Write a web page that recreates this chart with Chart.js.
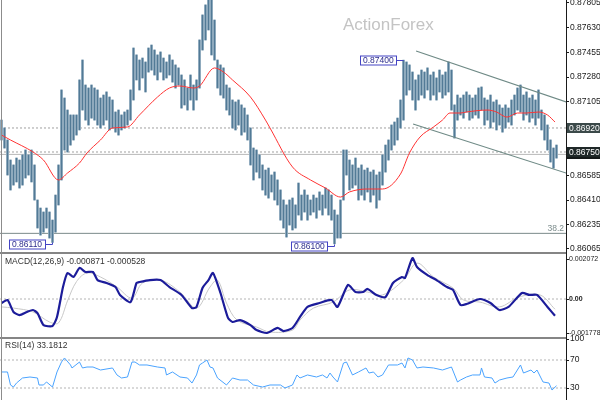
<!DOCTYPE html>
<html>
<head>
<meta charset="utf-8">
<title>4H chart</title>
<script src="https://cdn.jsdelivr.net/npm/chart.js@4.4.1/dist/chart.umd.min.js"></script>
<style>
  html, body { margin: 0; padding: 0; background: #fff; }
  #wrap { position: relative; width: 600px; height: 400px; overflow: hidden; background: #fff; }
  .pane { position: absolute; left: 0; width: 600px; }
  #pane-main { top: 0; height: 252px; }
  #pane-macd { top: 254px; height: 83px; }
  #pane-rsi { top: 333px; height: 67px; }
  .sep { position: absolute; left: 0; width: 566px; height: 2px; background: #858585; }
  .vline { position: absolute; top: 0; width: 1px; height: 400px; }
</style>
</head>
<body>
<div id="wrap">
  <div class="pane" id="pane-main"><canvas id="main"></canvas></div>
  <div class="pane" id="pane-macd"><canvas id="macd"></canvas></div>
  <div class="pane" id="pane-rsi"><canvas id="rsi"></canvas></div>
  <div class="sep" style="top:252px"></div>
  <div class="sep" style="top:337px"></div>
  <div class="vline" style="left:1px;background:#8c8c8c"></div>
  <div class="vline" style="left:566px;background:#1a1a1a"></div>
</div>
<script>
// price bars (high / low per bar, bar index = position)
const highs = [
  0.86976, 0.86920, 0.86835, 0.86693, 0.86658, 0.86707, 0.86693, 0.86729, 0.86764, 0.86729,
  0.86764, 0.86658, 0.86410, 0.86353, 0.86325, 0.86353, 0.86325, 0.86268, 0.86445, 0.86658,
  0.87189, 0.87132, 0.87047, 0.87012, 0.87012, 0.87012, 0.87260, 0.87401, 0.87224, 0.87203,
  0.87224, 0.87203, 0.87189, 0.87132, 0.87153, 0.87175, 0.87139, 0.87118, 0.87033, 0.87047,
  0.87012, 0.87033, 0.87047, 0.87189, 0.87486, 0.87437, 0.87401, 0.87415, 0.87387, 0.87486,
  0.87507, 0.87472, 0.87437, 0.87458, 0.87415, 0.87387, 0.87437, 0.87401, 0.87366, 0.87345,
  0.87295, 0.87260, 0.87203, 0.87295, 0.87224, 0.87260, 0.87543, 0.87720, 0.87791, 0.87840,
  0.87840, 0.87684, 0.87401, 0.87366, 0.87345, 0.87224, 0.87203, 0.87118, 0.87104, 0.87118,
  0.87083, 0.87061, 0.87012, 0.86920, 0.86778, 0.86764, 0.86729, 0.86658, 0.86622, 0.86636,
  0.86587, 0.86608, 0.86552, 0.86481, 0.86410, 0.86375, 0.86410, 0.86424, 0.86375, 0.86530,
  0.86445, 0.86481, 0.86445, 0.86410, 0.86445, 0.86424, 0.86467, 0.86445, 0.86495, 0.86481,
  0.86445, 0.86339, 0.86304, 0.86410, 0.86764, 0.86764, 0.86693, 0.86658, 0.86707, 0.86636,
  0.86658, 0.86622, 0.86636, 0.86608, 0.86622, 0.86587, 0.86608, 0.86729, 0.86799, 0.86835,
  0.86941, 0.86962, 0.86990, 0.87118, 0.87400, 0.87387, 0.87366, 0.87316, 0.87260, 0.87295,
  0.87330, 0.87316, 0.87345, 0.87295, 0.87316, 0.87274, 0.87330, 0.87295, 0.87316, 0.87387,
  0.87330, 0.87083, 0.87153, 0.87132, 0.87153, 0.87175, 0.87153, 0.87132, 0.87153, 0.87203,
  0.87210, 0.87132, 0.87118, 0.87153, 0.87104, 0.87118, 0.87083, 0.87061, 0.87083, 0.87061,
  0.87118, 0.87153, 0.87203, 0.87224, 0.87153, 0.87175, 0.87132, 0.87153, 0.87118, 0.87189,
  0.87047, 0.87012, 0.86941, 0.86835, 0.86778, 0.86799
];
const lows = [
  0.86835, 0.86778, 0.86587, 0.86481, 0.86516, 0.86538, 0.86495, 0.86516, 0.86566, 0.86587,
  0.86538, 0.86410, 0.86212, 0.86162, 0.86183, 0.86212, 0.86141, 0.86110, 0.86183, 0.86375,
  0.86552, 0.86764, 0.86750, 0.86799, 0.86835, 0.86870, 0.86906, 0.87047, 0.86976, 0.86941,
  0.86990, 0.86976, 0.86941, 0.86920, 0.86941, 0.86976, 0.86906, 0.86920, 0.86891, 0.86870,
  0.86906, 0.86920, 0.86941, 0.86976, 0.87118, 0.87260, 0.87189, 0.87274, 0.87175, 0.87316,
  0.87330, 0.87295, 0.87260, 0.87316, 0.87260, 0.87274, 0.87295, 0.87245, 0.87203, 0.87224,
  0.87061, 0.87083, 0.87047, 0.87118, 0.87047, 0.87118, 0.87203, 0.87472, 0.87543, 0.87614,
  0.87437, 0.87401, 0.87203, 0.87153, 0.87132, 0.87047, 0.87012, 0.86920, 0.86906, 0.86941,
  0.86870, 0.86891, 0.86835, 0.86658, 0.86552, 0.86608, 0.86566, 0.86481, 0.86445, 0.86424,
  0.86467, 0.86410, 0.86375, 0.86268, 0.86212, 0.86148, 0.86233, 0.86198, 0.86212, 0.86304,
  0.86268, 0.86325, 0.86268, 0.86304, 0.86325, 0.86282, 0.86339, 0.86304, 0.86353, 0.86304,
  0.86268, 0.86100, 0.86141, 0.86141, 0.86410, 0.86587, 0.86481, 0.86495, 0.86516, 0.86410,
  0.86445, 0.86410, 0.86467, 0.86396, 0.86445, 0.86353, 0.86410, 0.86516, 0.86608, 0.86693,
  0.86764, 0.86799, 0.86835, 0.86920, 0.86976, 0.87153, 0.87189, 0.87118, 0.87047, 0.87118,
  0.87153, 0.87132, 0.87189, 0.87118, 0.87153, 0.87118, 0.87175, 0.87132, 0.87153, 0.87175,
  0.87047, 0.86849, 0.86976, 0.87012, 0.86990, 0.87033, 0.86976, 0.86990, 0.87012, 0.86990,
  0.87047, 0.86941, 0.86976, 0.86920, 0.86962, 0.86906, 0.86941, 0.86891, 0.86920, 0.86962,
  0.86941, 0.87012, 0.87047, 0.87033, 0.86976, 0.87012, 0.86962, 0.86990, 0.86941, 0.86990,
  0.86906, 0.86835, 0.86764, 0.86679, 0.86636, 0.86707
];

// moving average (red), sampled at bar positions
const maIdx = [0, 3, 10.5, 14, 19, 22, 26, 28.5, 33, 37, 42, 46, 52, 56, 59.5, 64, 66, 71, 74, 77,
  83, 88, 89.5, 97, 103, 108, 113, 116, 122, 127, 133, 136, 139.5, 144, 147, 149.5, 153, 155,
  162, 165, 168.5, 172, 175, 179, 182, 184.5];
const maVal = [0.86870, 0.86835, 0.86750, 0.86693, 0.86552, 0.86601, 0.86672, 0.86743, 0.86835,
  0.86920, 0.86927, 0.87012, 0.87139, 0.87203, 0.87217, 0.87203, 0.87217, 0.87345, 0.87316,
  0.87260, 0.87139, 0.86976, 0.86920, 0.86644, 0.86552, 0.86495, 0.86431, 0.86467, 0.86488,
  0.86488, 0.86594, 0.86743, 0.86856, 0.86927, 0.86976, 0.87026, 0.87026, 0.87033, 0.87047,
  0.87033, 0.86997, 0.87026, 0.87026, 0.87033, 0.87012, 0.86962];

// drawn objects on the price pane
const channelUpper = [[138.2, 0.87465], [188.2, 0.87104]];
const channelLower = [[137.2, 0.86948], [188.2, 0.86601]];
const dashLevels = [0.86920, 0.86750];
const bidLevel = 0.86733;
const fibLevel = 0.86174;
const fibLabel = '38.2';
const callouts = [
  { bar: 17, price: 0.86110, kind: 'low' },
  { bar: 111, price: 0.86100, kind: 'low' },
  { bar: 134, price: 0.87400, kind: 'high' }
];
const axisMarks = [
  { price: 0.86733, bg: '#141919' },
  { price: 0.86920, bg: '#3b4949' },
  { price: 0.86750, bg: '#1f2828' }
];
const priceTicks = [0.87805, 0.87630, 0.87455, 0.87280, 0.87105, 0.86585, 0.86410, 0.86235, 0.86065];
const watermark = 'ActionForex';

// MACD(12,26,9)
const macdIdx = [0, 2, 4, 6, 8.5, 10.5, 12, 14, 17, 18.5, 20.5, 22, 24, 26, 28, 30.5, 32, 35, 38, 39.5,
  43, 45, 46, 49.5, 53, 56, 60, 63.5, 65, 67, 69, 70.5, 73, 75.5, 77, 79.5, 83, 85, 88.5, 92,
  94, 97, 99.5, 102, 106, 110, 112, 115.5, 118, 120.5, 122, 125, 128, 130.5, 133.5, 134.5, 137,
  138.5, 142, 145, 148.5, 150.5, 153, 155, 159.5, 163, 166, 169, 173.5, 176, 178.5, 182, 184.5];
const macdVal = [-0.00021, -0.00005, -0.00067, -0.00083, -0.00067, -0.00057, -0.00073, -0.00135,
  -0.00140, -0.00093, 0.00062, 0.00135, 0.00114, 0.00161, 0.00140, 0.00140, 0.00098, 0.00083,
  0.00062, 0.00021, -0.00016, 0.00083, 0.00088, 0.00098, 0.00098, 0.00062, 0.00021, -0.00047,
  -0.00041, 0.00057, 0.00098, 0.00135, 0.00031, -0.00098, -0.00119, -0.00109, -0.00135, -0.00161,
  -0.00176, -0.00150, -0.00166, -0.00150, -0.00093, -0.00041, -0.00021, -0.00005, -0.00041,
  0.00073, 0.00036, 0.00036, 0.00052, 0.00021, 0.00010, 0.00083, 0.00114, 0.00109, 0.00212,
  0.00166, 0.00124, 0.00098, 0.00062, 0.00047, -0.00031, -0.00026, 0.00000, -0.00021, -0.00057,
  -0.00041, 0.00031, 0.00021, 0.00021, -0.00041, -0.00087];
const sigIdx = [0, 4, 10.5, 16, 19, 22, 25, 28.5, 33, 38.5, 43.5, 47, 53, 59.5, 65, 69.5, 72, 75, 78.5,
  85, 89.5, 97, 99.5, 104, 110.5, 116, 122, 127, 134, 138.5, 144, 150.5, 154, 159.5, 166, 172.5,
  179.5, 184.5];
const sigVal = [-0.00041, -0.00047, -0.00067, -0.00119, -0.00124, -0.00010, 0.00090, 0.00135,
  0.00114, 0.00062, 0.00005, 0.00083, 0.00098, 0.00036, -0.00047, 0.00062, 0.00098, -0.00021,
  -0.00109, -0.00145, -0.00171, -0.00161, -0.00109, -0.00047, -0.00016, 0.00047, 0.00036,
  0.00021, 0.00098, 0.00186, 0.00114, 0.00057, -0.00005, -0.00016, -0.00041, 0.00010, 0.00021,
  -0.00053];
const macdTicks = [0.002072, 0, -0.001778];
const macdTickLabels = ['0.002072', '0.00', '-0.001778'];
const macdTitle = 'MACD(12,26,9) -0.000871 -0.000528';

// RSI(14)
const rsiIdx = [0, 2, 3, 4, 5, 7, 9.5, 12, 12.5, 14, 15, 17, 18.5, 20, 21, 23, 23.5, 26, 27, 28.5,
  30.5, 33, 37, 38.5, 40, 42, 43.5, 44.5, 46, 48.5, 52, 54.5, 55, 57, 59.5, 62, 63.5, 65, 66, 67,
  68.5, 69.5, 70.5, 72, 75, 77, 79.5, 82, 84, 87, 89.5, 93, 94.5, 97, 98.5, 99.5, 102, 105, 107,
  108.5, 109.5, 110.5, 112, 114, 115, 117, 119, 121.5, 122.5, 124, 125.5, 127, 129, 132, 133.5,
  134.5, 135.5, 137, 138.5, 140.5, 144, 147, 150, 152, 153, 155, 157, 159.5, 160, 161, 163.5,
  164.5, 166, 168.5, 170.5, 173, 174, 176.5, 177.5, 178.5, 180.5, 182.5, 183.5, 185];
const rsiVal = [52.9, 52.9, 34.3, 31.4, 37.1, 44.3, 45.7, 44.3, 34.3, 34.3, 38.6, 31.4, 52.9, 67.1,
  72.9, 62.9, 58.6, 67.1, 58.6, 60, 60, 55.7, 58.6, 48.6, 44.3, 45.7, 67.1, 67.1, 62.9, 62.9, 60,
  58.6, 48.6, 52.9, 45.7, 44.3, 37.1, 48.6, 62.9, 65.7, 70, 60, 58.6, 44.3, 34.3, 44.3, 41.4,
  41.4, 34.3, 31.4, 34.3, 34.3, 30, 34.3, 48.6, 44.3, 48.6, 45.7, 48.6, 44.3, 51.4, 45.7, 38.6,
  65.7, 67.1, 48.6, 52.9, 58.6, 51.4, 52.9, 45.7, 48.6, 62.9, 62.9, 65.7, 58.6, 72.9, 70, 58.6,
  60, 58.6, 55.7, 60, 38.6, 41.4, 45.7, 48.6, 48.6, 58.6, 45.7, 44.3, 37.1, 41.4, 44.3, 45.7,
  62.9, 51.4, 55.7, 51.4, 55.7, 38.6, 37.1, 27.1, 33.2];
const rsiLevels = [70, 30];
const rsiTicks = [100, 70, 30];
const rsiTitle = 'RSI(14) 33.1812';

const xMin = -0.5, xMax = 188.17;
const FONT = '"Liberation Sans", Arial, sans-serif';

const pts = (xs, ys) => xs.map((x, k) => ({ x, y: ys[k] }));
const seg = (pair) => pair.map(p => ({ x: p[0], y: p[1] }));
const hline = (v, color, dash, order) => ({
  type: 'line', data: [{ x: xMin, y: v }, { x: xMax, y: v }],
  borderColor: color, borderWidth: 1, borderDash: dash || [], pointRadius: 0, order: order || 5
});

function rightAxis(min, max, ticks, fmt, size, pad) {
  return {
    position: 'right', min, max,
    afterBuildTicks: s => { s.ticks = ticks.map(v => ({ value: v })); },
    afterFit: s => { s.width = 34; s.paddingTop = 0; s.paddingBottom = 0; },
    border: { display: false },
    grid: { display: true, drawOnChartArea: false, drawTicks: true, tickLength: 3, color: '#1a1a1a' },
    ticks: {
      padding: pad === undefined ? 1 : pad, color: '#1a1a1a', autoSkip: false, callback: fmt,
      font: c => ({ family: FONT, size: size || 8.5, weight: c.tick && c.tick.value === 0 ? 'bold' : 'normal' })
    }
  };
}
const xAxis = { type: 'linear', min: xMin, max: xMax, offset: false, display: false };
const common = {
  responsive: true, maintainAspectRatio: false, animation: false,
  plugins: { legend: { display: false }, tooltip: { enabled: false } }
};

const mainDeco = {
  id: 'mainDeco',
  beforeDatasetsDraw(chart) {
    const ctx = chart.ctx;
    ctx.save();
    ctx.font = '17px ' + FONT;
    ctx.fillStyle = '#c4c4c4';
    ctx.fillText(watermark, 343, 30);
    ctx.restore();
  },
  afterDraw(chart) {
    const { ctx, scales: { x, y } } = chart;
    ctx.save();
    ctx.font = '8.5px ' + FONT;
    ctx.textBaseline = 'middle';
    ctx.lineWidth = 1;
    callouts.forEach(c => {
      const bx = Math.round(x.getPixelForValue(c.bar)) + 0.5;
      const py = Math.round(y.getPixelForValue(c.price)) + 0.5;
      const text = c.price.toFixed(5);
      const w = Math.ceil(ctx.measureText(text).width) + 5;
      const h = 9;
      const cy = c.kind === 'low' ? py + 2 : py;
      const right = bx - 7;
      ctx.fillStyle = '#fff';
      ctx.fillRect(right - w, cy - h / 2, w, h);
      ctx.strokeStyle = '#4444c4';
      ctx.strokeRect(right - w, cy - h / 2, w, h);
      ctx.beginPath();
      ctx.moveTo(right, cy); ctx.lineTo(bx, cy); ctx.lineTo(bx, py);
      ctx.stroke();
      ctx.fillStyle = '#2c2c8c';
      ctx.fillText(text, right - w + 2.5, cy + 0.5);
    });
    axisMarks.forEach(m => {
      const py = Math.round(y.getPixelForValue(m.price));
      ctx.fillStyle = m.bg;
      ctx.fillRect(567, py - 5, 33, 10);
      ctx.fillStyle = '#fff';
      ctx.fillText(m.price.toFixed(5), 569, py + 0.5);
    });
    const fy = y.getPixelForValue(fibLevel);
    ctx.fillStyle = '#7c8c8c';
    ctx.textAlign = 'right';
    ctx.fillText(fibLabel, 564, fy - 5);
    ctx.restore();
  }
};

const titleDeco = (id, text, ty) => ({
  id,
  afterDraw(chart) {
    const ctx = chart.ctx;
    ctx.save();
    ctx.font = '8.5px ' + FONT;
    ctx.fillStyle = '#333';
    ctx.textBaseline = 'middle';
    ctx.fillText(text, 5, ty);
    ctx.restore();
  }
});

const barData = highs.map((h, i) => ({ x: i, y: [lows[i], h] }));

new Chart(document.getElementById('main'), {
  type: 'bar',
  data: {
    datasets: [
      ...dashLevels.map(v => hline(v, '#a0a0a0', [2, 2], 6)),
      hline(bidLevel, '#b8b8b8', [], 6),
      hline(fibLevel, '#7a8a8a', [], 6),
      {
        type: 'bar', data: barData,
        backgroundColor: '#b9ccd9', borderWidth: 0, barThickness: 2.2, grouped: false, order: 5
      },
      {
        type: 'bar', data: barData,
        backgroundColor: '#527a96', borderWidth: 0, barThickness: 1.2, grouped: false, order: 4
      },
      { type: 'line', data: seg(channelUpper), borderColor: '#6f8a86', borderWidth: 1.2, pointRadius: 0, order: 2 },
      { type: 'line', data: seg(channelLower), borderColor: '#6f8a86', borderWidth: 1.2, pointRadius: 0, order: 2 },
      {
        type: 'line', data: pts(maIdx, maVal), borderColor: '#ff3333', borderWidth: 1,
        pointRadius: 0, cubicInterpolationMode: 'monotone', order: 1
      }
    ]
  },
  options: {
    ...common,
    scales: {
      x: xAxis,
      y: rightAxis(0.86042, 0.87826, priceTicks, v => v.toFixed(5))
    }
  },
  plugins: [mainDeco]
});

new Chart(document.getElementById('macd'), {
  type: 'line',
  data: {
    datasets: [
      hline(0, '#b4b4b4', [2, 2], 6),
      { data: pts(sigIdx, sigVal), borderColor: '#c8c8c8', borderWidth: 1, pointRadius: 0, tension: 0.35, order: 3 },
      { data: pts(macdIdx, macdVal), borderColor: '#1c1c9a', borderWidth: 2.2, pointRadius: 0, tension: 0.2, order: 1 }
    ]
  },
  options: {
    ...common,
    scales: {
      x: xAxis,
      y: rightAxis(-0.001968, 0.002331, macdTicks, (v, i) => macdTickLabels[i], 7, 0)
    }
  },
  plugins: [titleDeco('macdTitle', macdTitle, 8)]
});

new Chart(document.getElementById('rsi'), {
  type: 'line',
  data: {
    datasets: [
      ...rsiLevels.map(v => hline(v, '#b4b4b4', [2, 2], 6)),
      { data: pts(rsiIdx, rsiVal), borderColor: '#4aa3ff', borderWidth: 1, pointRadius: 0, order: 1 }
    ]
  },
  options: {
    ...common,
    layout: { padding: { top: 6 } },
    scales: {
      x: xAxis,
      y: rightAxis(12.86, 100, rsiTicks, v => String(v))
    }
  },
  plugins: [titleDeco('rsiTitle', rsiTitle, 13)]
});
</script>
</body>
</html>
